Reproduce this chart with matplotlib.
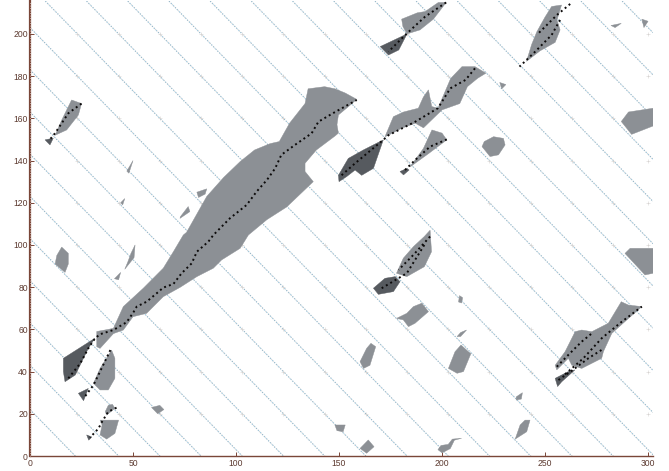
import matplotlib
matplotlib.use("Agg")
import matplotlib.pyplot as plt
import numpy as np

plt.rcParams['font.family'] = ['Liberation Sans', 'DejaVu Sans']

XTICKS = [0, 50, 100, 150, 200, 250, 300]
YTICKS = [0, 20, 40, 60, 80, 100, 120, 140, 160, 180, 200]

# diagonal swath lines: x + y = intercept
intercepts = [22, 43, 63, 83, 103, 123, 143, 163, 183, 203, 223, 243, 263, 283, 303, 323,
              343, 363, 383, 403, 423, 443, 463, 483, 503]
cross_x = [23, 43, 63, 83, 103, 123, 143, 163, 183, 203, 223, 243, 263, 283, 300]
cross_y = [20, 40, 60, 80, 100, 120, 140, 160, 180, 200]

# regions (x, y vertices) - mid gray
main_blob = [(40.5,60.5),(45.3,70.8),(55,79.5),(64.7,89),(69.6,96.8),(74.4,104.7),(76,106),(85.8,123),(94,132),
             (102,139.5),(109,145),(116.5,148),(121,149),(126,157.7),(133.5,167),(135,174),(143,175),(148,174),
             (153,172),(158.6,169),(154.5,165.5),(149.7,161.6),(149,157),(149.7,153),(148,151.6),(139,145),
             (133.5,138.7),(133.5,134.8),(137.5,130),(124.6,118),(115,112),(106,104.7),(102,98.4),(93,92.9),
             (89,89),(81,85),(73,80),(64.7,75.5),(56.6,67.6),(50,66),(45.3,59.7),(40.5,58),(34,51),(32.4,51.8),
             (32.4,59),(38,60)]
blob_2 = [(39.6,50.2),(41.2,46.3),(41.2,36.8),(38,31.3),(34,31.3),(30.8,34.4),(34,41.5)]
blob_3a = [(34,17),(43,17),(41.2,10.7),(37.2,8),(34,10),(35,14.7)]
blob_3b = [(38,24),(40,24.5),(41.2,22.6),(37.2,19.4),(36.5,21)]
blob_left = [(15.4,99),(18.6,96),(18.6,91),(17,87),(12.2,91),(13,95)]
blob_tl = [(20.2,168.7),(25,167),(23.5,161.6),(17.8,154.5),(12.2,152),(15.4,159.2)]
blob_a = [(180.4,207),(188,210),(191.8,210.6),(198.2,214.9),(202,214.9),(195.8,207),(189.3,201.9),(183,200),(181,203.5)]
blob_bc = [(172.3,151.3),(176.4,160.8),(181.3,163),(188.5,164.8),(190.9,170),(193.4,173.5),(195,165.6),(198,164.8),
           (204.2,178.9),(209.7,184.5),(216,184.5),(221.3,181.4),(217.3,179),(212.3,175),(208.6,167),(200,164),
           (191,155.5),(187,157.7),(180.4,155.3),(174,152)]
blob_d = [(195.1,154.5),(200,153),(202.3,149.8),(193.6,143.4),(184.5,137),(191,145.8)]
blob_e = [(225,151.3),(229.8,150.5),(230.6,147.4),(227.4,142.7),(223.3,141.9),(219.4,146.6),(220.5,149)]
blob_f = [(302.5,164.8),(290.5,163),(287,158.5),(292,152.4),(302.5,156.4)]
blob_g = [(253.2,213),(258,213.7),(255.8,206.6),(257.3,201.9),(254.9,196),(247.6,192),(241,187),(243.5,195),(246,201),(250,208)]
blob_h = [(194.2,107),(194.9,96.8),(191.4,89.7),(182.9,85),(177.9,86.6),(181.2,93.7),(186.1,99.2),(191.4,104)]
blob_i = [(190.2,72.4),(193.4,68.4),(186.9,62.9),(183.7,61.3),(181.2,64.5),(177.9,65.2),(182.9,67.6),(186.1,70.8)]
blob_j = [(165.5,53.4),(167.8,51.8),(165,43),(161.9,41.5),(160.2,44.7),(163.4,51)]
blob_k = [(209.2,52.6),(212.8,49.4),(214,48.5),(210.4,40),(207.3,39.2),(203.1,41.5),(206.3,49.4)]
blob_l = [(211.9,59.7),(209,58.5),(207.3,56.6),(209,56.6)]
blob_m = [(242.7,17),(241.1,11.5),(235.5,8),(237.9,14.7),(240.3,17)]
blob_n = [(209.5,8.4),(206,7.5),(204,3.5),(200,1.5),(198,3),(199.5,5),(203,5.5),(205,8)]
blob_o = [(164.2,7.6),(167,4.4),(163.4,1.3),(160.2,3.6)]
blob_p = [(148,14.7),(153,14.7),(152,11.5),(149,12)]
blob_q = [(291.3,98.4),(302.5,98.4),(302.5,86.6),(298.5,85.8),(288.8,96)]
blob_r = [(264.6,58.9),(267.8,59.7),(272.7,58.9),(280.7,62.9),(287,73.1),(290.5,71.5),(297,70.8),(290.5,65.2),
          (282.4,58.1),(278.3,49.4),(277.5,46.3),(267.8,41.5),(263,43),(261.3,46.3),(255.7,40.8),(254.9,43),(259.7,49.4)]
fleck_1 = [(81,125),(85.8,126.6),(85,124.1),(81.8,122.5)]
fleck_2 = [(73,113.4),(76.8,118.2),(77.6,115.8),(72.8,112.6)]
fleck_3 = [(49,96),(51,100),(50.5,94),(46,88.5),(47.5,92)]
fleck_3b = [(41,84),(44,87),(43,83.5)]
fleck_4 = [(59,23),(63,24),(65,22),(62,20)]
fleck_5 = [(44,120),(46,122),(45,119)]
fleck_6 = [(282,204),(287,205),(284,203)]
fleck_7 = [(228,177),(231,176),(229,174)]
fleck_8 = [(47,135),(50,140),(48,134)]
fleck_9 = [(208.5,76),(210,75),(209.5,72.5),(208,73)]
fleck_10 = [(236,28),(239,30),(238.5,27),(236,26.5)]
fleck_11 = [(297,207),(300,206),(298,203)]
gray_regions = [main_blob, blob_2, blob_3a, blob_3b, blob_left, blob_tl, blob_a, blob_bc, blob_d, blob_e, blob_f,
                blob_g, blob_h, blob_i, blob_j, blob_k, blob_l, blob_m, blob_n, blob_o, blob_p, blob_q, blob_r,
                fleck_1, fleck_2, fleck_3, fleck_3b, fleck_4, fleck_5, fleck_6, fleck_7, fleck_8,
                fleck_9, fleck_10, fleck_11]

# regions - dark gray
dark_1 = [(31.5,55.8),(16.2,46.3),(16.2,40),(17,35.2),(22,38.4),(28.3,51)]
dark_2 = [(23.5,29.7),(28.3,32),(26,26.2)]
dark_3 = [(27.5,10),(30,9),(28.5,7.5)]
dark_tl = [(7.3,149.8),(11.3,150.6),(9.7,147.4)]
dark_a = [(170,194),(183,200),(179,192.4),(174,190)]
dark_b = [(171.5,149.8),(166.7,136.3),(161,133),(157.8,135.5),(153.7,132.4),(150,130),(149.7,133),(154.5,141),(161.8,145)]
dark_d = [(179.6,134.8),(183,136.3),(184,135.5),(181.3,133.2)]
dark_h = [(177.3,85),(179.6,82.6),(176.4,77.9),(169.1,76.6),(166.7,79.5),(172.3,84.2)]
dark_r = [(254.9,36.8),(261.3,40),(264.5,40.8),(258.1,35.2),(256.1,32.9)]
dark_regions = [dark_1, dark_2, dark_3, dark_tl, dark_a, dark_b, dark_d, dark_h, dark_r]

# dotted tracks
track_main = [(18.6,36.8),(24.4,43.9),(28.3,51),(31.6,55.8),(34,57.7),(40.5,59.7),(46.9,63.4),(50.2,68.1),(51.8,70.8),
              (56.6,73.1),(61.5,77.1),(64.7,79.8),(69.6,81.5),(73.6,86.6),(78.5,91.3),(81,96.8),(86.6,101.6),(89,104.7),
              (97,112.6),(105.2,119),(110,125.3),(115,130.8),(119,136.3),(122,142.7),(128.6,147.4),(136.7,152.9),
              (140,158.4),(147,162.4),(158.6,168.7)]
track_2 = [(39,50.2),(34,40),(30.8,33.6),(26,27.3)]
track_3 = [(42,22.9),(38,21),(35,16.3),(33.2,13),(29.1,8.7)]
track_tl = [(25,167),(18.6,162.4),(15.4,157.7),(12.2,153),(9.7,150)]
track_a = [(202,214.9),(191.8,208.2),(183,200.3),(174,191.6)]
track_bc = [(216,183.7),(211.4,178.2),(204,174.2),(198,164.8),(187,158.4),(174,152),(171.5,149.8),(157.8,138.7),(150.5,132.4)]
track_d = [(202.3,150),(194.2,146.6),(187,140.3),(182,135.5)]
track_g1 = [(262.2,214.2),(255.8,209),(246.8,200.3)]
track_g2 = [(257.3,206.6),(253.2,199.5),(245.2,191.6),(237.6,184.5)]
track_h1 = [(194.2,104),(186.1,95.3),(178.9,88.2)]
track_h2 = [(191.4,100),(182.9,86.6),(170.7,79.5)]
track_r1 = [(255.7,42.3),(261.3,47.9),(267.8,54.2),(272.7,58.1)]
track_r2 = [(256.5,36),(264.5,41.5),(271,46.3),(277.5,50.3)]
track_r3 = [(259.7,38.7),(268.6,46.3),(277.5,55.8),(287.2,63.6),(297,70.8)]
tracks = [track_main, track_2, track_3, track_tl, track_a, track_bc, track_d, track_g1, track_g2,
          track_h1, track_h2, track_r1, track_r2, track_r3]

W, H = 669, 471
fig = plt.figure(figsize=(W/100, H/100), dpi=100, facecolor='white')
ax = fig.add_axes([30/W, (H-456)/H, (653-30)/W, (456-1)/H])
ax.set_xlim(0, 302.4)
ax.set_ylim(0, 215.6)

GRAY = '#8c9095'
DARK = '#565a5f'
AXIS = '#7a4638'
TEXT = '#5c3a30'

# diagonal lines
xx = np.array([0.0, 302.4])
for c in intercepts:
    ax.plot(xx, c - xx, color='#a3cde3', lw=0.8, ls=(0, (1.2, 1.4)), zorder=1)
    ax.plot(xx, c - xx, color='#8f9498', lw=0.6, ls=(1.3, (1.0, 1.6)), alpha=0.6, zorder=1.1)

# faint crossings
gx, gy = np.meshgrid(cross_x, cross_y)
ax.scatter(gx.ravel(), gy.ravel(), marker='+', s=10, lw=0.4, color='#d6d3d1', zorder=1.2)

for r in gray_regions:
    a = np.array(r)
    ax.fill(a[:, 0], a[:, 1], color=GRAY, lw=0.3, zorder=2)
for r in dark_regions:
    a = np.array(r)
    ax.fill(a[:, 0], a[:, 1], color=DARK, lw=0.3, zorder=2.2)
for t in tracks:
    a = np.array(t)
    ax.plot(a[:, 0], a[:, 1], color='#0c0a0a', lw=1.4, ls=(0, (1.0, 1.6)), zorder=3)

for s in ['top', 'right']:
    ax.spines[s].set_visible(False)
ax.spines['bottom'].set_color(AXIS)
ax.spines['bottom'].set_linewidth(1.0)
ax.spines['left'].set_color(AXIS)
ax.spines['left'].set_linewidth(1.6)
ax.plot([0, 0], [0, 215.6], color='#d8c4bc', lw=0.6, ls=(0, (1, 2)), zorder=5, clip_on=False)
ax.set_xticks(XTICKS)
ax.set_yticks(YTICKS)
ax.tick_params(axis='both', direction='in', length=3, width=0.7, color=AXIS, labelcolor=TEXT, labelsize=6.2, pad=1.5)
ax.tick_params(axis='x', pad=2.5)
ax.set_facecolor('white')

fig.savefig('out.png', dpi=100, facecolor='white')
